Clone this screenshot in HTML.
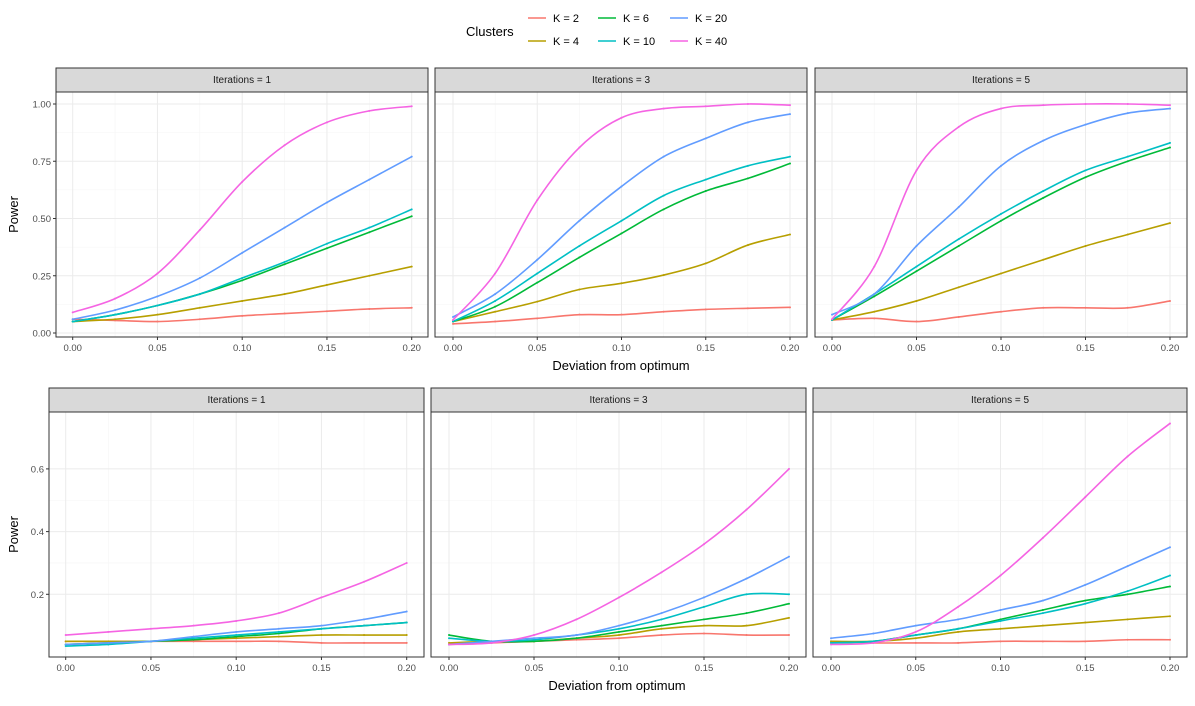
<!DOCTYPE html>
<html><head><meta charset="utf-8"><style>
body{margin:0;background:#fff;}
svg text{font-family:"Liberation Sans",sans-serif;}
</style></head><body>
<svg id="chart" width="1195" height="701" viewBox="0 0 1195 701" xmlns="http://www.w3.org/2000/svg">
<g id="legend">
<text x="466" y="36" font-size="13" fill="#000">Clusters</text>
</g>
<g id="panels"></g>
</svg>
<script>
const xs = [0,0.025,0.05,0.075,0.1,0.125,0.15,0.175,0.2];
const clusterLabels = ["K = 2","K = 4","K = 6","K = 10","K = 20","K = 40"];
const colors = ["#F8766D","#B79F00","#00BA38","#00BFC4","#619CFF","#F564E3"];
const xTicks = [0,0.05,0.1,0.15,0.2];
const xTickLabels = ["0.00","0.05","0.10","0.15","0.20"];
const yTicksTop = [0,0.25,0.5,0.75,1];
const yTickLabelsTop = ["0.00","0.25","0.50","0.75","1.00"];
const yTicksBottom = [0.2,0.4,0.6];
const yTickLabelsBottom = ["0.2","0.4","0.6"];
const stripLabels = ["Iterations = 1","Iterations = 3","Iterations = 5"];
// top row [K2,K4,K6,K10,K20,K40]
const top1 = [
 [0.06,0.055,0.05,0.06,0.075,0.085,0.095,0.105,0.11],
 [0.05,0.06,0.08,0.11,0.14,0.17,0.21,0.25,0.29],
 [0.05,0.08,0.12,0.17,0.23,0.30,0.37,0.44,0.51],
 [0.05,0.08,0.12,0.17,0.24,0.31,0.39,0.46,0.54],
 [0.06,0.10,0.16,0.24,0.35,0.46,0.57,0.67,0.77],
 [0.09,0.15,0.26,0.45,0.66,0.82,0.92,0.97,0.99]];
const top3 = [
 [0.04,0.05,0.064,0.08,0.08,0.093,0.103,0.108,0.112],
 [0.05,0.093,0.137,0.19,0.217,0.253,0.304,0.384,0.43],
 [0.05,0.115,0.22,0.33,0.435,0.54,0.62,0.675,0.74],
 [0.05,0.14,0.26,0.38,0.49,0.60,0.67,0.73,0.77],
 [0.07,0.17,0.32,0.49,0.64,0.77,0.85,0.92,0.956],
 [0.057,0.26,0.58,0.81,0.94,0.98,0.99,1.0,0.995]];
const top5 = [
 [0.057,0.064,0.05,0.07,0.093,0.11,0.11,0.11,0.14],
 [0.057,0.093,0.14,0.20,0.26,0.32,0.38,0.43,0.48],
 [0.057,0.16,0.27,0.38,0.49,0.59,0.68,0.75,0.81],
 [0.057,0.17,0.29,0.41,0.52,0.62,0.71,0.77,0.83],
 [0.08,0.17,0.38,0.55,0.73,0.84,0.91,0.96,0.98],
 [0.06,0.29,0.71,0.90,0.98,0.995,1.0,1.0,0.995]];
const bot1 = [
 [0.05,0.05,0.05,0.05,0.05,0.05,0.045,0.045,0.045],
 [0.05,0.05,0.05,0.055,0.06,0.065,0.07,0.07,0.07],
 [0.04,0.045,0.05,0.055,0.065,0.075,0.09,0.10,0.11],
 [0.035,0.04,0.05,0.06,0.07,0.08,0.09,0.10,0.11],
 [0.04,0.045,0.05,0.065,0.08,0.09,0.10,0.12,0.145],
 [0.07,0.08,0.09,0.10,0.115,0.14,0.19,0.24,0.30]];
const bot3 = [
 [0.04,0.045,0.05,0.055,0.06,0.07,0.075,0.07,0.07],
 [0.045,0.05,0.05,0.06,0.07,0.09,0.10,0.10,0.125],
 [0.07,0.05,0.05,0.06,0.08,0.10,0.12,0.14,0.17],
 [0.06,0.05,0.055,0.07,0.09,0.12,0.16,0.20,0.20],
 [0.04,0.05,0.06,0.07,0.10,0.14,0.19,0.25,0.32],
 [0.04,0.045,0.07,0.12,0.19,0.27,0.36,0.47,0.60]];
const bot5 = [
 [0.05,0.045,0.045,0.045,0.05,0.05,0.05,0.055,0.055],
 [0.05,0.05,0.06,0.08,0.09,0.10,0.11,0.12,0.13],
 [0.045,0.05,0.07,0.09,0.12,0.15,0.18,0.20,0.225],
 [0.045,0.05,0.07,0.09,0.115,0.14,0.17,0.21,0.26],
 [0.06,0.075,0.10,0.12,0.15,0.18,0.23,0.29,0.35],
 [0.04,0.045,0.08,0.16,0.26,0.38,0.51,0.64,0.745]];

const NS="http://www.w3.org/2000/svg";
function mk(tag,attrs,parent){const e=document.createElementNS(NS,tag);for(const k in attrs)e.setAttribute(k,attrs[k]);parent.appendChild(e);return e;}
const root=document.getElementById('panels');
const legend=document.getElementById('legend');

// legend
clusterLabels.forEach((lab,i)=>{
  const col=Math.floor(i/2), row=i%2;
  const lx=[528,598,670][col], ly=[18,41][row];
  const g=mk('g',{},legend);
  
  
  mk('line',{x1:lx,x2:lx+18,y1:ly,y2:ly,stroke:colors[i],'stroke-width':1.5},g);
  const t=mk('text',{x:lx+25,y:ly+4,'font-size':11,fill:'#000'},g);
  t.textContent=lab;
});

const topPanels=[
 {x0:56,x1:428,px0:72.7,px1:411.7,data:top1},
 {x0:435,x1:807,px0:453,px1:790,data:top3},
 {x0:815,x1:1187,px0:832,px1:1170,data:top5}];
const botPanels=[
 {x0:49,x1:424,px0:65.7,px1:406.7,data:bot1},
 {x0:431,x1:806,px0:449,px1:789,data:bot3},
 {x0:813,x1:1187,px0:831,px1:1170,data:bot5}];

function smoothPath(pts){
  let d=`M${pts[0][0]},${pts[0][1]}`;
  for(let i=0;i<pts.length-1;i++){
    const p0=pts[i-1]||pts[i],p1=pts[i],p2=pts[i+1],p3=pts[i+2]||p2;
    const c1=[p1[0]+(p2[0]-p0[0])/6,p1[1]+(p2[1]-p0[1])/6];
    const c2=[p2[0]-(p3[0]-p1[0])/6,p2[1]-(p3[1]-p1[1])/6];
    d+=` C${c1[0]},${c1[1]} ${c2[0]},${c2[1]} ${p2[0]},${p2[1]}`;
  }
  return d;
}

function drawRow(panels,stripY,plotTop,plotBot,yv0,yp0,yScale,yTicks,yLabels,titleX,titleY,rowName){
  panels.forEach((p,pi)=>{
    const g=mk('g',{},root);
    
    
    const X=v=>p.px0+(v/0.2)*(p.px1-p.px0);
    const Y=v=>yp0-(v-yv0)*yScale;
    // strip
    const s=mk('rect',{x:p.x0,y:stripY,width:p.x1-p.x0,height:plotTop-stripY,fill:'#D9D9D9',stroke:'#333','stroke-width':1},g);
    
    
    const st=mk('text',{x:(p.x0+p.x1)/2,y:stripY+15,'font-size':10,'text-anchor':'middle',fill:'#1A1A1A'},g);
    st.textContent=stripLabels[pi];
    // grid minor
    for(let i=0;i<xTicks.length-1;i++){const v=(xTicks[i]+xTicks[i+1])/2;mk('line',{x1:X(v),x2:X(v),y1:plotTop,y2:plotBot,stroke:'#F5F5F5','stroke-width':0.6},g);}
    for(let i=0;i<yTicks.length-1;i++){const v=(yTicks[i]+yTicks[i+1])/2;mk('line',{x1:p.x0,x2:p.x1,y1:Y(v),y2:Y(v),stroke:'#F5F5F5','stroke-width':0.6},g);}
    xTicks.forEach(v=>mk('line',{x1:X(v),x2:X(v),y1:plotTop,y2:plotBot,stroke:'#EBEBEB','stroke-width':1},g));
    yTicks.forEach(v=>mk('line',{x1:p.x0,x2:p.x1,y1:Y(v),y2:Y(v),stroke:'#EBEBEB','stroke-width':1},g));
    // series
    p.data.forEach((vals,si)=>{
      const pts=vals.map((v,i)=>[X(xs[i]),Y(v)]);
      const path=mk('path',{d:smoothPath(pts),fill:'none',stroke:colors[si],'stroke-width':1.6},g);
      
      
      pts.forEach(pt=>{
        const c=mk('circle',{cx:pt[0],cy:pt[1],r:1,fill:colors[si]},g);
        
        
      });
    });
    // border
    mk('rect',{x:p.x0,y:plotTop,width:p.x1-p.x0,height:plotBot-plotTop,fill:'none',stroke:'#333','stroke-width':1},g);
    // x ticks
    xTicks.forEach((v,i)=>{
      mk('line',{x1:X(v),x2:X(v),y1:plotBot,y2:plotBot+3,stroke:'#333'},g);
      const t=mk('text',{x:X(v),y:plotBot+14,'font-size':9.5,'text-anchor':'middle',fill:'#4D4D4D'},g);
      
      
      t.textContent=xTickLabels[i];
    });
    if(pi===0){
      yTicks.forEach((v,i)=>{
        mk('line',{x1:p.x0-3,x2:p.x0,y1:Y(v),y2:Y(v),stroke:'#333'},g);
        const t=mk('text',{x:p.x0-5,y:Y(v)+3.5,'font-size':9.5,'text-anchor':'end',fill:'#4D4D4D'},g);
        
        
        t.textContent=yLabels[i];
      });
      const yt=mk('text',{x:0,y:0,'font-size':13,'text-anchor':'middle',fill:'#000',transform:`translate(18,${(plotTop+plotBot)/2}) rotate(-90)`},root);
      
      
      yt.textContent='Power';
    }
  });
  const xt=mk('text',{x:titleX,y:titleY,'font-size':13,'text-anchor':'middle',fill:'#000'},root);
  
  
  xt.textContent='Deviation from optimum';
}
drawRow(topPanels,68,92,337,0,333,229,yTicksTop,yTickLabelsTop,621,370,'top');
drawRow(botPanels,388,412,657,0,657,313.5,yTicksBottom,yTickLabelsBottom,617,690,'bottom');
</script>
</body></html>
